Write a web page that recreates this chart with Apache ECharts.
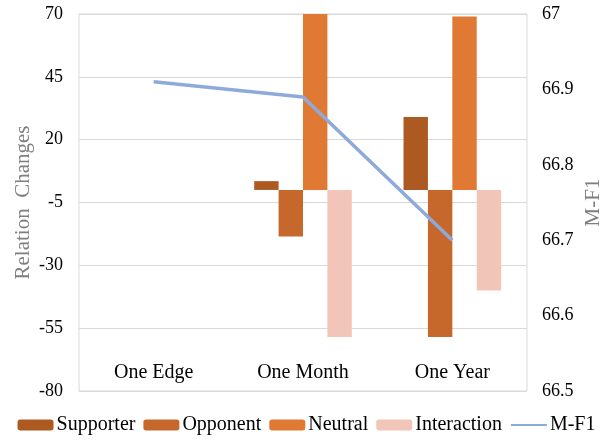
<!DOCTYPE html>
<html>
<head>
<meta charset="utf-8">
<script src="https://cdn.jsdelivr.net/npm/echarts@6/dist/echarts.min.js"></script>
<style>
html, body { margin: 0; padding: 0; background: #fff; }
#main { width: 613px; height: 440px; }
</style>
</head>
<body>
<div id="main"></div>
<script>
var categories = ['One Edge', 'One Month', 'One Year'];
var supporter = [null, 3.5, 29];
var opponent = [null, -18.5, -58.5];
var neutral = [null, 70, 69];
var interaction = [null, -58.5, -40];
var mf1 = [66.91, 66.89, 66.70];
var leftTicks = [-80, -55, -30, -5, 20, 45, 70];
var rightTicks = [66.5, 66.6, 66.7, 66.8, 66.9, 67];

var font = 'Liberation Serif';
var myChart = echarts.init(document.getElementById('main'));

function bar(name, data, color) {
    return {
        name: name,
        type: 'bar',
        yAxisIndex: 0,
        data: data,
        barWidth: 24.4,
        barGap: '0%',
        itemStyle: { color: color }
    };
}

var option = {
    animation: false,
    textStyle: { fontFamily: font },
    grid: {
        left: 79, right: 86, top: 14, bottom: 49,
        show: true,
        borderColor: '#d9d9d9',
        borderWidth: 1
    },
    legend: {
        bottom: 0,
        left: 'center',
        itemWidth: 36,
        itemHeight: 11,
        itemGap: 8,
        textStyle: { fontFamily: font, fontSize: 20, color: '#000', padding: [0, 0, 0, -2] },
        data: ['Supporter', 'Opponent', 'Neutral', 'Interaction',
            { name: 'M-F1', itemStyle: { opacity: 0 } }]
    },
    xAxis: {
        type: 'category',
        data: categories,
        axisLine: { show: false },
        axisTick: { show: false },
        axisLabel: { inside: true, margin: 8, fontFamily: font, fontSize: 20, color: '#000' }
    },
    yAxis: [{
        type: 'value',
        min: -80,
        max: 70,
        name: 'Relation  Changes',
        nameLocation: 'middle',
        nameGap: 45,
        nameMoveOverlap: false,
        nameTextStyle: { fontFamily: font, fontSize: 21, color: '#7f7f7f' },
        axisLine: { show: false },
        axisTick: { show: false, customValues: leftTicks },
        axisLabel: { customValues: leftTicks, margin: 16, fontFamily: font, fontSize: 18, color: '#000' },
        splitLine: { lineStyle: { color: '#d9d9d9' } }
    }, {
        type: 'value',
        min: 66.5,
        max: 67,
        name: 'M-F1',
        nameLocation: 'middle',
        nameGap: 56,
        nameMoveOverlap: false,
        nameRotate: 90,
        nameTextStyle: { fontFamily: font, fontSize: 21, color: '#7f7f7f' },
        axisLine: { show: false },
        axisTick: { show: false, customValues: rightTicks },
        axisLabel: {
            customValues: rightTicks, margin: 15, fontFamily: font, fontSize: 18, color: '#000',
            formatter: function (v) { return String(+v.toFixed(1)); }
        },
        splitLine: { show: false }
    }],
    series: [
        bar('Supporter', supporter, '#ac5a22'),
        bar('Opponent', opponent, '#c6672c'),
        bar('Neutral', neutral, '#e07934'),
        bar('Interaction', interaction, '#f1c5b8'),
        {
            name: 'M-F1',
            type: 'line',
            yAxisIndex: 1,
            data: mf1,
            symbol: 'none',
            lineStyle: { color: '#8eaadb', width: 3.5 },
            itemStyle: { color: '#8eaadb' }
        }
    ]
};
myChart.setOption(option);
</script>
</body>
</html>
